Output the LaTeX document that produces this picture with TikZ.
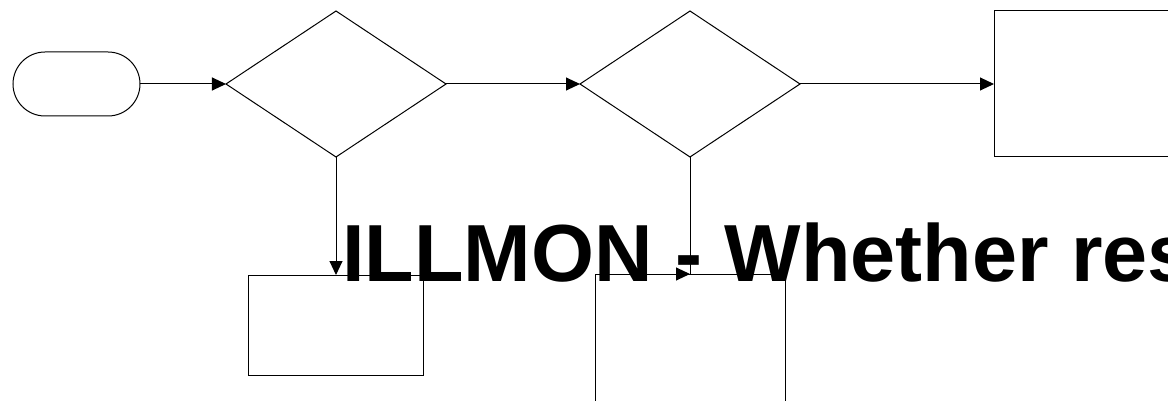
\documentclass[tikz,border=0pt]{standalone}
\usepackage{fontspec}
\setmainfont{Liberation Sans}
\usetikzlibrary{arrows.meta, positioning, shapes.geometric}

\begin{document}
\begin{tikzpicture}[
			x=1pt, y=-1pt,
			terminal/.style={draw, line width=1pt, rounded corners=32pt, minimum width=127pt, minimum height=64pt, inner sep=0pt, outer sep=0pt},
			decision/.style={draw, line width=1pt, diamond, minimum width=220pt, minimum height=146pt, inner sep=0pt, outer sep=0pt},
			process/.style={draw, line width=1pt, rectangle, minimum width=175pt, minimum height=100pt, inner sep=0pt, outer sep=0pt},
			line/.style={line width=1pt},
			arrow/.style={-{Triangle[length=14pt, width=13pt]}, line width=1pt},
			title/.style={font=\bfseries\fontsize{81}{81}\selectfont, inner sep=0pt, anchor=base west}
			]
			\useasboundingbox (0,0) rectangle (1168,401);
			\clip (0,0) rectangle (1168,401);
			
			\node[terminal] (start) at (76.5,84) {};
			\node[decision, right=86pt of start] (check1) {};
			\node[decision, right=134pt of check1] (check2) {};
			\node[process, right=194pt of check2, minimum width=190pt, minimum height=146pt] (proc3) {};
			
			\node[process, below=118pt of check1] (proc1) {};
			\node[process, below=117pt of check2, minimum width=190pt, minimum height=150pt] (proc2) {};
			\coordinate (join2) at (check2.south |- proc2.north);
			
			\draw[arrow] (start) -- (check1);
			\draw[arrow] (check1) -- (check2);
			\draw[arrow] (check2) -- (proc3);
			\draw[arrow] (check1.south) -- (check1.south |- proc1.north);
			\draw[line] (check2.south) -- (join2);
			\draw[arrow] ([xshift=-0.5pt]join2) -- (join2);
			
			\node[title] (caption) at (342,281) {ILLMON - Whether res};
	\end{tikzpicture}
\end{document}
